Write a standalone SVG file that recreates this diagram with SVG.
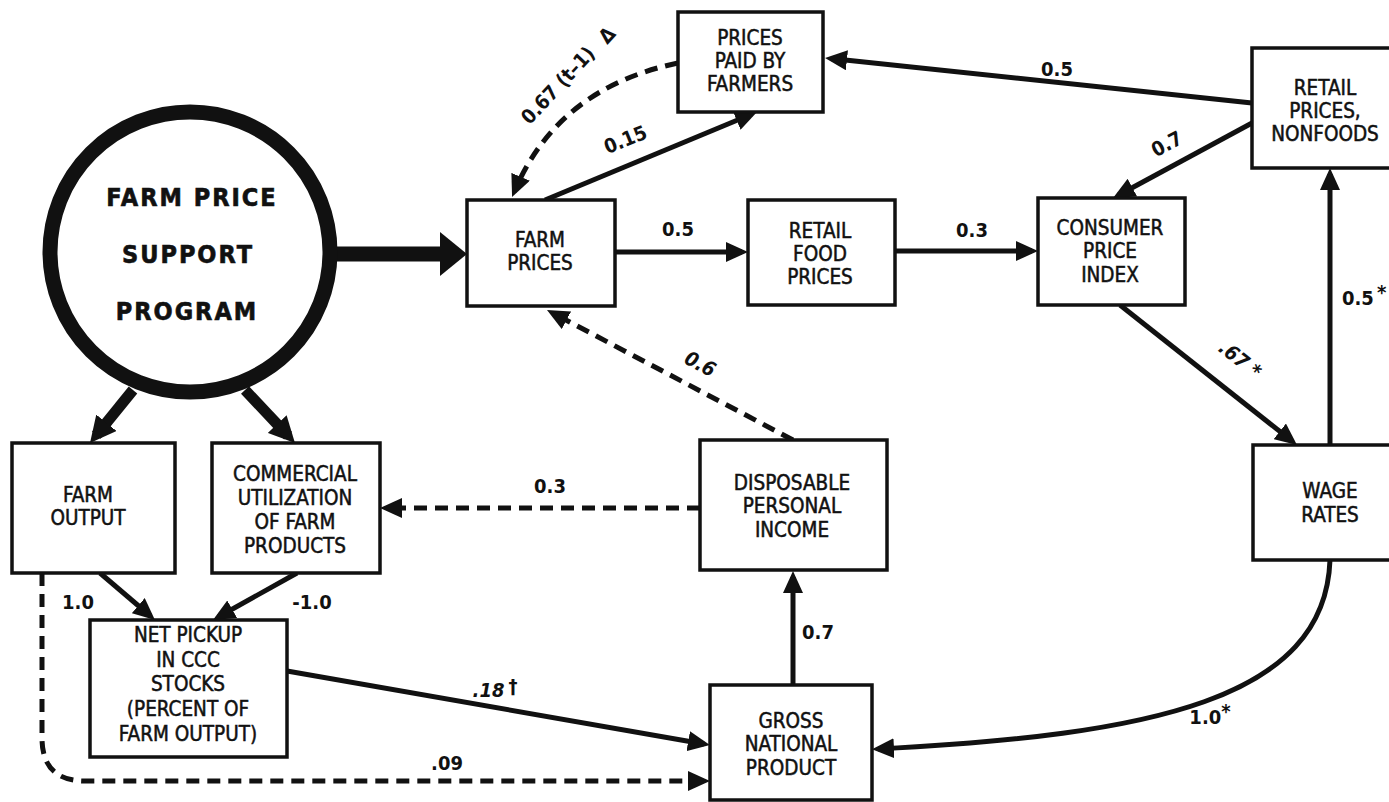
<svg xmlns="http://www.w3.org/2000/svg" width="1389" height="802" viewBox="0 0 1389 802">
<style>
.box{fill:#fff;stroke:#111;stroke-width:3.5}
.t{font-family:"DejaVu Sans Condensed","DejaVu Sans",sans-serif;font-stretch:condensed;font-size:20.5px;text-anchor:middle;fill:#111;stroke:#111;stroke-width:0.5}
.l{font-family:"DejaVu Sans Condensed","DejaVu Sans",sans-serif;font-stretch:condensed;font-size:20px;font-weight:bold;fill:#111}
.i{font-style:italic}
.big{font-family:"DejaVu Sans Condensed","DejaVu Sans",sans-serif;font-stretch:condensed;font-size:25px;font-weight:bold;letter-spacing:2px;text-anchor:middle;fill:#111;stroke:#111;stroke-width:0.6}
.c{fill:none;stroke:#111;stroke-width:5}
.d{fill:none;stroke:#111;stroke-width:5;stroke-dasharray:13 8}
.a{marker-end:url(#ah)}
</style>
<defs>
<marker id="ah" markerUnits="userSpaceOnUse" viewBox="0 0 22 20" markerWidth="22" markerHeight="20" refX="16" refY="10" orient="auto">
<path d="M0,0 L22,10 L0,20 z" fill="#111"/>
</marker>
<marker id="ahb" markerUnits="userSpaceOnUse" viewBox="0 0 26 26" markerWidth="26" markerHeight="26" refX="16" refY="13" orient="auto">
<path d="M0,0 L26,13 L0,26 z" fill="#111"/>
</marker>
</defs>

<g id="connectors">
<line x1="337" y1="254" x2="445" y2="254" stroke="#111" stroke-width="15"/>
<polygon points="440,232 467,254 440,276" fill="#111"/>
<line x1="133" y1="390" x2="96.3" y2="435.2" stroke="#111" stroke-width="11" marker-end="url(#ahb)"/>
<line x1="245" y1="390" x2="288.1" y2="435.7" stroke="#111" stroke-width="11" marker-end="url(#ahb)"/>
<path class="c a" d="M615,252 L742,252"/>
<path class="c a" d="M895,251 L1032,251"/>
<path class="c a" d="M545,200 L751.5,114.3"/>
<path class="c a" d="M1252,103 L831,58.6"/>
<path class="c a" d="M1252,123 L1118.3,195.2"/>
<path class="c a" d="M1120,305 L1292.3,441.3"/>
<path class="c a" d="M1330,445 L1330,174"/>
<path class="c a" d="M793,685 L793,577"/>
<path class="d a" d="M793,440 L552.3,312.8"/>
<path class="d a" d="M700,508 L386,508"/>
<path class="c a" d="M100,573 L150.4,616"/>
<path class="c a" d="M297,573 L218.2,617"/>
<path class="c a" d="M287,671 Q400,690 704,744"/>
<path class="c a" d="M1330,560 C1325,700 1150,735 878,749"/>
<path class="d a" d="M42,573 L42,738 Q42,781 85,781 L704,781"/>
<path class="d a" d="M678,63 Q558,88 514.4,191.5"/>

<text class="l" x="678" y="236" text-anchor="middle">0.5</text>
<text class="l" x="972" y="237" text-anchor="middle">0.3</text>
<text class="l" x="1057" y="76" text-anchor="middle">0.5</text>
<text class="l" x="1170" y="150" text-anchor="middle" transform="rotate(-28 1170 150)">0.7</text>
<text class="l" x="628" y="146" text-anchor="middle" transform="rotate(-22 628 146)">0.15</text>
<text class="l" x="563" y="90" text-anchor="middle" transform="rotate(-47 563 90)">0.67 (t–1)</text>
<text class="l" x="612" y="40" text-anchor="middle" transform="rotate(-47 612 40)">Δ</text>
<text class="l i" x="697" y="370" text-anchor="middle" transform="rotate(28 697 370)">0.6</text>
<text class="l" x="550" y="493" text-anchor="middle">0.3</text>
<text class="l" x="1236" y="365" text-anchor="middle" transform="rotate(38 1236 365)"><tspan class="i">.67</tspan> *</text>
<text class="l" x="1342" y="305">0.5<tspan dx="3" dy="-6">*</tspan></text>
<text class="l" x="818" y="639" text-anchor="middle">0.7</text>
<text class="l" x="495" y="697" text-anchor="middle"><tspan class="i">.18</tspan><tspan dx="4" dy="-4">†</tspan></text>
<text class="l" x="447" y="770" text-anchor="middle">.09</text>
<text class="l" x="1210" y="724" text-anchor="middle">1.0<tspan dy="-6">*</tspan></text>
<text class="l" x="78" y="609" text-anchor="middle">1.0</text>
<text class="l" x="312" y="609" text-anchor="middle">-1.0</text>
</g>

<g id="program">
<circle cx="190" cy="252" r="140" fill="#fff" stroke="#111" stroke-width="15"/>
<text class="big" x="192" y="206">FARM PRICE</text>
<text class="big" x="188" y="263">SUPPORT</text>
<text class="big" x="187" y="320">PROGRAM</text>
</g>

<g id="farm-prices">
<rect class="box" x="467" y="200" width="148" height="106"/>
<text class="t" x="540" y="247">FARM</text>
<text class="t" x="540" y="270">PRICES</text>
</g>

<g id="prices-paid">
<rect class="box" x="678" y="12" width="145" height="100"/>
<text class="t" x="750" y="45">PRICES</text>
<text class="t" x="750" y="68">PAID BY</text>
<text class="t" x="750" y="91">FARMERS</text>
</g>

<g id="retail-food">
<rect class="box" x="748" y="200" width="147" height="105"/>
<text class="t" x="820" y="238">RETAIL</text>
<text class="t" x="820" y="261">FOOD</text>
<text class="t" x="820" y="284">PRICES</text>
</g>

<g id="cpi">
<rect class="box" x="1038" y="198" width="147" height="107"/>
<text class="t" x="1110" y="235">CONSUMER</text>
<text class="t" x="1110" y="258">PRICE</text>
<text class="t" x="1110" y="282">INDEX</text>
</g>

<g id="retail-nonfoods">
<rect class="box" x="1252" y="48" width="145" height="120"/>
<text class="t" x="1325" y="95">RETAIL</text>
<text class="t" x="1325" y="118">PRICES,</text>
<text class="t" x="1325" y="141">NONFOODS</text>
</g>

<g id="wage-rates">
<rect class="box" x="1253" y="445" width="145" height="115"/>
<text class="t" x="1330" y="498">WAGE</text>
<text class="t" x="1330" y="522">RATES</text>
</g>

<g id="farm-output">
<rect class="box" x="12" y="443" width="163" height="130"/>
<text class="t" x="88" y="502">FARM</text>
<text class="t" x="88" y="525">OUTPUT</text>
</g>

<g id="commercial">
<rect class="box" x="212" y="443" width="168" height="130"/>
<text class="t" x="295" y="481">COMMERCIAL</text>
<text class="t" x="295" y="505">UTILIZATION</text>
<text class="t" x="295" y="529">OF FARM</text>
<text class="t" x="295" y="553">PRODUCTS</text>
</g>

<g id="dpi">
<rect class="box" x="700" y="440" width="187" height="130"/>
<text class="t" x="792" y="490">DISPOSABLE</text>
<text class="t" x="792" y="513">PERSONAL</text>
<text class="t" x="792" y="537">INCOME</text>
</g>

<g id="net-pickup">
<rect class="box" x="90" y="620" width="197" height="137"/>
<text class="t" x="188" y="642">NET PICKUP</text>
<text class="t" x="188" y="667">IN CCC</text>
<text class="t" x="188" y="691">STOCKS</text>
<text class="t" x="188" y="716">(PERCENT OF</text>
<text class="t" x="188" y="741">FARM OUTPUT)</text>
</g>

<g id="gnp">
<rect class="box" x="710" y="685" width="162" height="115"/>
<text class="t" x="791" y="728">GROSS</text>
<text class="t" x="791" y="751">NATIONAL</text>
<text class="t" x="791" y="775">PRODUCT</text>
</g>
</svg>
